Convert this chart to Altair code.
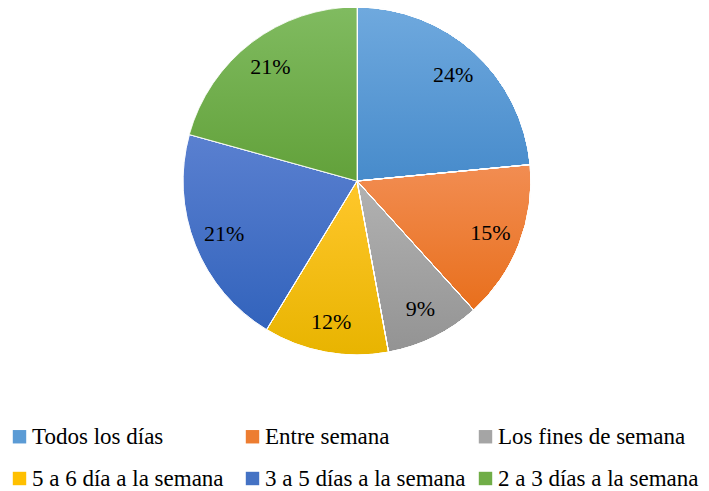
import altair as alt
import pandas as pd

categories = ["Todos los días", "Entre semana", "Los fines de semana",
              "5 a 6 día a la semana", "3 a 5 días a la semana", "2 a 3 días a la semana"]
values = [23.5, 14.8, 8.8, 11.6, 20.6, 20.7]
labels = ["24%", "15%", "9%", "12%", "21%", "21%"]
colors = ["#5b9bd5", "#ed7d31", "#a5a5a5", "#ffc000", "#4472c4", "#70ad47"]
tops = ["#6fa9de", "#f28d52", "#b2b2b2", "#ffc72c", "#5a80d0", "#80bb60"]
bottoms = ["#478bcb", "#e86f1c", "#939393", "#e8b400", "#3263bc", "#62a13a"]

df = pd.DataFrame({"cat": categories, "value": values, "label": labels,
                   "idx": list(range(len(categories)))})

CX, CY, R = 349, 173, 174
font = "Liberation Serif"

theta = alt.Theta("value:Q", stack=True)
order = alt.Order("idx:Q", sort="ascending")

base = alt.Chart(df).mark_arc(radius=R, stroke="white", strokeWidth=0.8).encode(
    theta=theta,
    order=order,
    x=alt.value(CX),
    y=alt.value(CY),
    color=alt.Color(
        "cat:N",
        sort=categories,
        scale=alt.Scale(domain=categories, range=colors),
        legend=alt.Legend(
            title=None, orient="none", legendX=0, legendY=417, columns=3,
            direction="horizontal",
            symbolType="square", symbolSize=180, symbolStrokeWidth=0,
            labelFont=font, labelFontSize=23, labelColor="black",
            labelOffset=1, columnPadding=8, rowPadding=18, gridAlign="all",
            labelLimit=0, padding=0,
        ),
    ),
)

layers = [base]
for c, t, b in zip(categories, tops, bottoms):
    grad = alt.LinearGradient(
        gradient="linear", x1=0, y1=0, x2=0, y2=1,
        stops=[alt.GradientStop(offset=0, color=t), alt.GradientStop(offset=1, color=b)],
    )
    lay = alt.Chart(df).mark_arc(radius=R, stroke="white", strokeWidth=0.8).encode(
        theta=theta,
        order=order,
        x=alt.value(CX),
        y=alt.value(CY),
        color=alt.condition(f"datum.cat === '{c}'", alt.value(grad), alt.value("transparent")),
    )
    layers.append(lay)

text = alt.Chart(df).mark_text(radius=143, font=font, fontSize=22, color="black").encode(
    theta=theta,
    order=order,
    x=alt.value(CX),
    y=alt.value(CY),
    text="label:N",
)
layers.append(text)

chart = alt.layer(*layers).properties(
    width=693, height=483, padding=0,
    autosize=alt.AutoSizeParams(type="none"),
).configure_view(stroke=None)

chart.save("out.html", embed_options={"renderer": "svg", "actions": False})
